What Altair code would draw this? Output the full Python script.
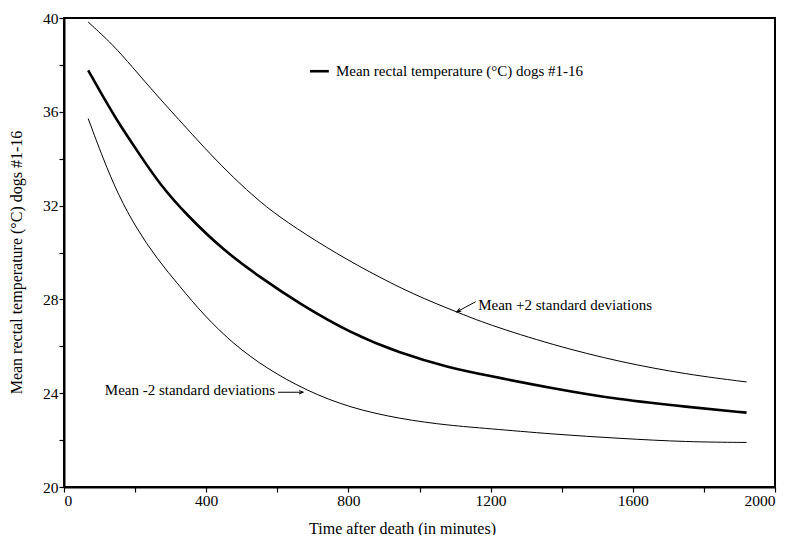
import altair as alt
import pandas as pd

FONT = "'Liberation Serif', 'Times New Roman', serif"

# Mean rectal temperature curve
mean_t = [68, 129, 158, 214, 270, 345, 448, 551, 664, 804, 945, 1086, 1189, 1376, 1564, 1752, 1920]
mean_v = [37.77, 36.14, 35.42, 34.15, 32.9, 31.6, 30.1, 28.95, 27.8, 26.58, 25.7, 25.08, 24.76, 24.2, 23.72, 23.42, 23.17]

# Mean +2 SD curve
upper_t = [68, 139, 190, 261, 345, 411, 476, 551, 626, 739, 852, 984, 1104, 1189, 1376, 1564, 1752, 1920]
upper_v = [39.83, 38.84, 37.95, 36.7, 35.3, 34.2, 33.2, 32.15, 31.3, 30.2, 29.22, 28.2, 27.47, 26.95, 26.05, 25.33, 24.8, 24.48]

# Mean -2 SD curve
lower_t = [68, 110, 153, 204, 261, 326, 392, 476, 570, 683, 804, 945, 1086, 1189, 1376, 1564, 1752, 1920]
lower_v = [35.71, 34.0, 32.44, 31.02, 29.74, 28.55, 27.35, 26.1, 25.05, 24.1, 23.38, 22.9, 22.62, 22.5, 22.25, 22.07, 21.92, 21.9]

mean_df = pd.DataFrame({"t": mean_t, "v": mean_v})
upper_df = pd.DataFrame({"t": upper_t, "v": upper_v})
lower_df = pd.DataFrame({"t": lower_t, "v": lower_v})

x_scale = alt.Scale(domain=[0, 2000], nice=False, zero=False)
y_scale = alt.Scale(domain=[20, 40], nice=False, zero=False)

x_axis = alt.Axis(
    values=list(range(0, 2001, 100)),
    labelExpr="datum.value % 400 == 0 ? datum.label : ''",
    format="d", labelOverlap=False, grid=False,
    tickSize=5, tickColor="black", tickWidth=1.2,
    domainColor="black", domainWidth=2,
    labelFont=FONT, labelFontSize=15.5, labelColor="black", labelPadding=1,
    title="Time after death (in minutes)", titleFont=FONT, titleFontSize=16,
    titleFontWeight="normal", titleColor="black",
    titleX=338, titleY=41, titleAlign="center", titleBaseline="middle",
)
y_axis = alt.Axis(
    values=list(range(20, 41, 1)),
    labelExpr="datum.value % 4 == 0 ? datum.label : ''",
    format="d", labelOverlap=False, grid=False,
    tickSize=5, tickColor="black", tickWidth=1.2,
    domainColor="black", domainWidth=2,
    labelFont=FONT, labelFontSize=15.5, labelColor="black", labelPadding=1,
    title="Mean rectal temperature (°C) dogs #1-16", titleFont=FONT, titleFontSize=16,
    titleFontWeight="normal", titleColor="black",
    titleX=-48, titleY=244, titleAlign="center", titleBaseline="middle", titleAngle=-90,
)


def curve(df, width):
    return alt.Chart(df).mark_line(interpolate="basis", color="black", strokeWidth=width).encode(
        x=alt.X("t:Q", scale=x_scale, axis=x_axis),
        y=alt.Y("v:Q", scale=y_scale, axis=y_axis),
    )


mean_line = curve(mean_df, 2.6)
upper_line = curve(upper_df, 1)
lower_line = curve(lower_df, 1)

# Legend (line + text)
legend_line = pd.DataFrame({"t": [692], "t2": [745], "v": [37.73]})
legend_rule = alt.Chart(legend_line).mark_rule(color="black", strokeWidth=2.6).encode(
    x="t:Q", x2="t2:Q", y="v:Q")
legend_text_df = pd.DataFrame({"t": [765], "v": [37.73], "label": ["Mean rectal temperature (°C) dogs #1-16"]})
legend_text = alt.Chart(legend_text_df).mark_text(
    align="left", baseline="middle", font=FONT, fontSize=15, color="black"
).encode(x="t:Q", y="v:Q", text="label:N")

# Annotations
ann_left_df = pd.DataFrame({"t": [1165], "v": [27.75], "label": ["Mean +2 standard deviations"]})
ann_right_df = pd.DataFrame({"t": [594], "v": [24.12], "label": ["Mean -2 standard deviations"]})
ann_left = alt.Chart(ann_left_df).mark_text(
    align="left", baseline="middle", font=FONT, fontSize=15, color="black"
).encode(x="t:Q", y="v:Q", text="label:N")
ann_right = alt.Chart(ann_right_df).mark_text(
    align="right", baseline="middle", font=FONT, fontSize=15, color="black"
).encode(x="t:Q", y="v:Q", text="label:N")

arrow_df = pd.DataFrame({
    "t": [1158, 602], "v": [27.9, 24.04],
    "t2": [1105, 673], "v2": [27.47, 24.04],
    "angle": [151, 0],
})
arrow_shafts = alt.Chart(arrow_df).mark_rule(color="black", strokeWidth=1).encode(
    x="t:Q", y="v:Q", x2="t2:Q", y2="v2:Q")
arrow_heads = alt.Chart(arrow_df).mark_point(
    shape="M-1,-0.4L0,0L-1,0.4", filled=False, color="black", strokeWidth=1, size=70, opacity=1
).encode(x="t2:Q", y="v2:Q", angle=alt.Angle("angle:Q", scale=None))

chart = alt.layer(
    mean_line, upper_line, lower_line, legend_rule, legend_text, ann_left, ann_right, arrow_shafts, arrow_heads
).properties(
    width=711, height=469,
    autosize=alt.AutoSizeParams(type="none"),
    padding={"left": 56, "top": 10, "right": 7, "bottom": 48},
    background="white",
).configure_view(stroke="black", strokeWidth=2)

chart.save("out.html", embed_options={"renderer": "svg", "actions": False})
